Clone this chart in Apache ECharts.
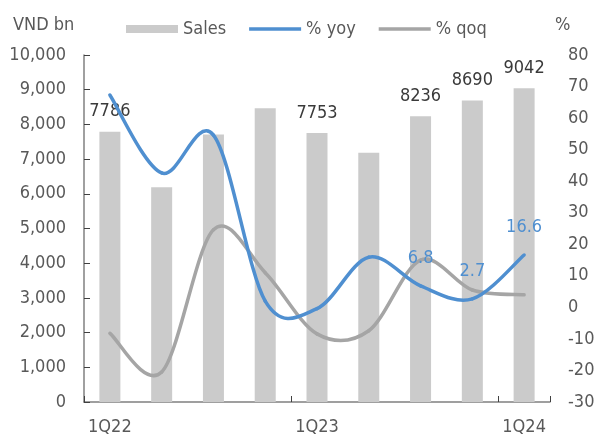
<!DOCTYPE html>
<html>
<head>
<meta charset="utf-8">
<script src="https://cdn.jsdelivr.net/npm/echarts@6/dist/echarts.min.js"></script>
<style>
  html, body { margin: 0; padding: 0; background: #fff; }
  #chart { width: 598px; height: 434px; }
</style>
</head>
<body>
<div id="chart"></div>
<script>
// Quarterly sales (VND bn) with year-on-year and quarter-on-quarter growth (%)
const quarters = ['1Q22', '2Q22', '3Q22', '4Q22', '1Q23', '2Q23', '3Q23', '4Q23', '1Q24'];
const sales = [7786, 6190, 7712, 8462, 7753, 7180, 8236, 8690, 9042];
const salesLabelShown = [true, false, false, false, true, false, true, true, true];
const yoy = [67.3, 42.6, 54.6, 2.0, -0.4, 15.9, 6.8, 2.7, 16.6];
const yoyLabelShown = [false, false, false, false, false, false, true, true, true];
const qoq = [-8.2, -20.5, 24.6, 11.0, -8.4, -7.4, 15.0, 5.5, 4.0];
const leftTicks = [0, 10000, 1000];
const rightTicks = [-30, 80, 10];

const FONT = '"DejaVu Sans Condensed", "DejaVu Sans", sans-serif';
const AXIS_TEXT = '#595959';
const BLUE = '#4f8fd0';
const GREY_LINE = '#a5a5a5';
const BAR_GREY = '#cbcbcb';
const LINE_W = 3.5;

// Smoothed line drawn segment by segment as cubic Beziers
// (control points one sixth of the neighbouring chord, spreadsheet style).
function smoothLineRenderer(values, color, labelShown) {
  const n = values.length;
  return function (params, api) {
    const i = params.dataIndex;
    const pt = k => {
      const c = Math.max(0, Math.min(n - 1, k));
      return api.coord([c, values[c]]);
    };
    const children = [];
    if (i < n - 1) {
      const p0 = pt(i - 1), p1 = pt(i), p2 = pt(i + 1), p3 = pt(i + 2);
      children.push({
        type: 'bezierCurve',
        shape: {
          x1: p1[0], y1: p1[1],
          x2: p2[0], y2: p2[1],
          cpx1: p1[0] + (p2[0] - p0[0]) / 6,
          cpy1: p1[1] + (p2[1] - p0[1]) / 6,
          cpx2: p2[0] - (p3[0] - p1[0]) / 6,
          cpy2: p2[1] - (p3[1] - p1[1]) / 6
        },
        style: { stroke: color, lineWidth: LINE_W, fill: null, lineCap: 'round' }
      });
    }
    if (labelShown && labelShown[i]) {
      const p = pt(i);
      children.push({
        type: 'text',
        z2: 10,
        style: {
          text: String(values[i]),
          x: p[0], y: p[1] - 19,
          align: 'center', verticalAlign: 'bottom',
          fill: color, font: '18px ' + FONT
        }
      });
    }
    return { type: 'group', children: children };
  };
}

const chart = echarts.init(document.getElementById('chart'), null, { renderer: 'canvas' });

const LINE_ICON = 'path://M0,0 L52,0 L52,3.5 L0,3.5 Z';

const option = {
  animation: false,
  backgroundColor: '#ffffff',
  textStyle: { fontFamily: FONT },
  grid: { left: 84, right: 48, top: 55, bottom: 32, containLabel: false, outerBoundsMode: 'none' },
  legend: {
    left: 121,
    top: 15,
    itemWidth: 52,
    itemHeight: 8,
    itemGap: 23,
    symbolKeepAspect: true,
    textStyle: { fontFamily: FONT, fontSize: 18, color: AXIS_TEXT },
    data: [
      { name: 'Sales', icon: 'rect' },
      { name: '% yoy', icon: LINE_ICON },
      { name: '% qoq', icon: LINE_ICON }
    ]
  },
  graphic: [
    {
      type: 'text', left: 13, top: 16,
      style: { text: 'VND bn', font: '18px ' + FONT, fill: AXIS_TEXT }
    },
    {
      type: 'text', left: 555, top: 16,
      style: { text: '%', font: '18px ' + FONT, fill: AXIS_TEXT }
    }
  ],
  xAxis: {
    type: 'category',
    data: quarters,
    boundaryGap: true,
    axisLine: { show: true, lineStyle: { color: '#808080', width: 1.5 } },
    axisTick: { show: true, inside: true, length: 6, interval: 3, lineStyle: { color: '#404040' } },
    axisLabel: { interval: 3, margin: 16, fontSize: 18, color: AXIS_TEXT, fontFamily: FONT },
    splitLine: { show: false }
  },
  yAxis: [
    {
      type: 'value',
      min: leftTicks[0], max: leftTicks[1], interval: leftTicks[2],
      axisLine: { show: true, lineStyle: { color: '#808080', width: 1.5 } },
      axisTick: { show: true, inside: true, length: 6, lineStyle: { color: '#404040' } },
      axisLabel: {
        margin: 18, fontSize: 18, color: AXIS_TEXT, fontFamily: FONT,
        formatter: v => v.toLocaleString('en-US')
      },
      splitLine: { show: false }
    },
    {
      type: 'value',
      min: rightTicks[0], max: rightTicks[1], interval: rightTicks[2],
      axisLine: { show: false },
      axisTick: { show: false },
      axisLabel: { margin: 18, fontSize: 18, color: AXIS_TEXT, fontFamily: FONT },
      splitLine: { show: false }
    }
  ],
  series: [
    {
      name: 'Sales',
      type: 'bar',
      yAxisIndex: 0,
      barWidth: 21,
      itemStyle: { color: BAR_GREY },
      data: sales.map((v, i) => ({
        value: v,
        label: { show: salesLabelShown[i] }
      })),
      label: {
        position: 'top', distance: 11,
        fontSize: 18, color: '#3a3a3a', fontFamily: FONT
      },
      z: 1
    },
    {
      name: '% qoq',
      type: 'custom',
      coordinateSystem: 'cartesian2d',
      yAxisIndex: 1,
      itemStyle: { color: GREY_LINE },
      renderItem: smoothLineRenderer(qoq, GREY_LINE, null),
      data: qoq.map((v, i) => [i, v]),
      z: 2
    },
    {
      name: '% yoy',
      type: 'custom',
      coordinateSystem: 'cartesian2d',
      yAxisIndex: 1,
      itemStyle: { color: BLUE },
      renderItem: smoothLineRenderer(yoy, BLUE, yoyLabelShown),
      data: yoy.map((v, i) => [i, v]),
      z: 3
    }
  ]
};

chart.setOption(option);
</script>
</body>
</html>
